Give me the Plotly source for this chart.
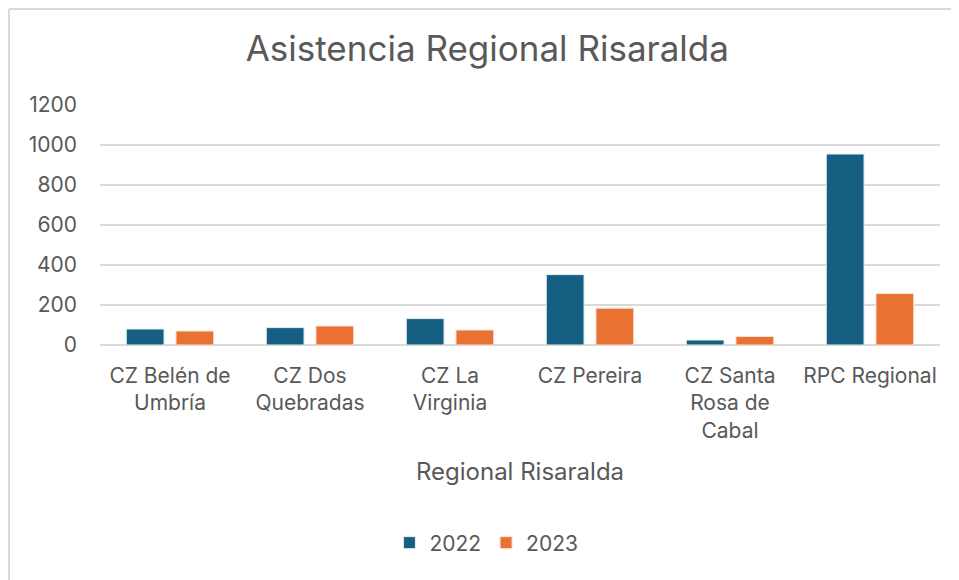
import plotly.graph_objects as go

categories = ["CZ Belén de<br>Umbría", "CZ Dos<br>Quebradas", "CZ La<br>Virginia",
              "CZ Pereira", "CZ Santa<br>Rosa de<br>Cabal", "RPC Regional"]
values_2022 = [80, 87, 132, 352, 25, 955]
values_2023 = [70, 95, 75, 184, 43, 257]
series_names = ["2022", "2023"]
tick_vals = [0, 200, 400, 600, 800, 1000, 1200]

FONT = "Inter, Open Sans, sans-serif"
GREY = "#595959"

fig = go.Figure()
fig.add_trace(go.Bar(x=categories, y=values_2022, name=series_names[0],
                     marker=dict(color="#156082", line=dict(color="#e8eef2", width=1))))
fig.add_trace(go.Bar(x=categories, y=values_2023, name=series_names[1],
                     marker=dict(color="#E97132", line=dict(color="#fbe3d6", width=1))))

fig.update_layout(
    width=951, height=572,
    margin=dict(l=92, r=19, t=97, b=235),
    paper_bgcolor="white", plot_bgcolor="white",
    barmode="group", bargap=0.29, bargroupgap=0.24,
    font=dict(family=FONT, color=GREY, size=21),
    title=dict(text="Asistencia Regional Risaralda", x=0.504, xanchor="center",
               y=0.928, yanchor="middle", font=dict(size=35, color=GREY, family=FONT)),
    xaxis=dict(showgrid=False, showline=False, ticks="", ticklabelstandoff=16,
               tickfont=dict(size=21, color=GREY),
               title=dict(text="Regional Risaralda", font=dict(size=24, color=GREY), standoff=21)),
    yaxis=dict(range=[0, 1200], tickvals=tick_vals, showgrid=True, gridcolor="#d9d9d9",
               gridwidth=1.5, zeroline=True, zerolinecolor="#d9d9d9", zerolinewidth=1.5,
               showline=False, ticks="", ticklabelstandoff=22,
               tickfont=dict(size=21, color=GREY)),
    legend=dict(orientation="h", x=0.46, xanchor="center", y=-0.825, yanchor="middle",
                font=dict(size=21, color=GREY), itemwidth=30, traceorder="normal"),
    showlegend=True,
)

# chart-area border (left and top edges visible in the reference)
fig.add_shape(type="line", xref="paper", yref="paper",
              x0=-0.1083, x1=1.03, y0=1.4, y1=1.4,
              line=dict(color="#d9d9d9", width=2))
fig.add_shape(type="line", xref="paper", yref="paper",
              x0=-0.1083, x1=-0.1083, y0=1.4, y1=-0.99,
              line=dict(color="#d9d9d9", width=2))

fig.write_html("out.html")
